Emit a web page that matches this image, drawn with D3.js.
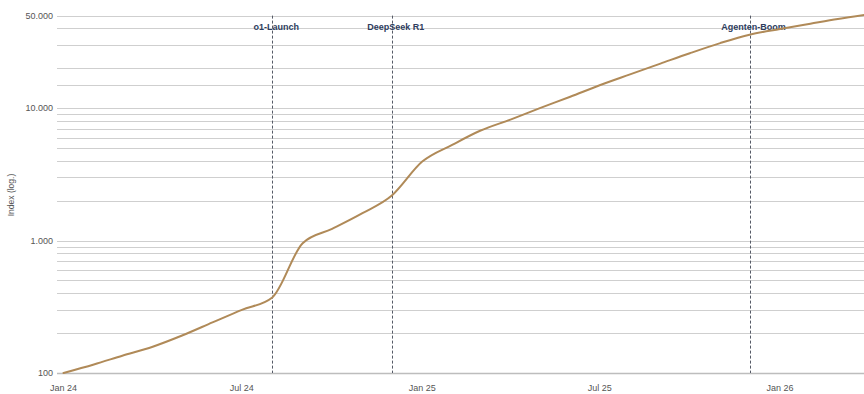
<!DOCTYPE html>
<html>
<head>
<meta charset="utf-8">
<script src="https://cdn.jsdelivr.net/npm/d3@7"></script>
<style>
  html, body { margin: 0; padding: 0; background: #fff; }
  svg { display: block; font-family: "Liberation Sans", Arial, Helvetica, sans-serif; }
</style>
</head>
<body>
<svg id="chart" width="864" height="394"></svg>
<script>
// Monthly index values (log scale), Jan 2024 = 100
const months = [
  "2024-01","2024-02","2024-03","2024-04","2024-05","2024-06",
  "2024-07","2024-08","2024-09","2024-10","2024-11","2024-12",
  "2025-01","2025-02","2025-03","2025-04","2025-05","2025-06",
  "2025-07","2025-08","2025-09","2025-10","2025-11","2025-12",
  "2026-01","2026-02","2026-03","2026-04"
];
const indexValues = [
  100, 116, 135, 158, 192, 241,
  300, 372, 955, 1225, 1610, 2190,
  3950, 5300, 6750, 8200, 10000, 12200,
  14900, 18000, 21700, 26000, 31000, 35900,
  39600, 43400, 47100, 51000
];

// Event markers
const eventDates = ["2024-08", "2024-12", "2025-12"];
const eventLabels = ["o1-Launch", "DeepSeek R1", "Agenten-Boom"];

// Axis ticks and grid
const xTickDates = ["2024-01", "2024-07", "2025-01", "2025-07", "2026-01"];
const yTickValues = [100, 1000, 10000, 50000];
const yGridValues = [
  100, 200, 300, 400, 500, 600, 700, 800, 900,
  1000, 2000, 3000, 4000, 5000, 6000, 7000, 8000, 9000,
  10000, 15000, 20000, 30000, 40000, 50000
];
const yTitle = "Index (log.)";

const parseMonth = d3.timeParse("%Y-%m");
const data = months.map((m, i) => ({ date: parseMonth(m), value: indexValues[i] }));

const de = d3.formatLocale({ decimal: ",", thousands: ".", grouping: [3], currency: ["", " €"] });
const fmt = de.format(",d");
const monthFmt = d3.timeFormat("%b %y");

const svg = d3.select("#chart");
const W = 864;

const x = d3.scaleTime()
  .domain([parseMonth("2024-01"), parseMonth("2026-01")])
  .range([63.5, 780]);
const y = d3.scaleLog()
  .domain([100, 50000])
  .range([373, 15.6]);

// Horizontal grid lines
svg.append("g")
  .selectAll("line")
  .data(yGridValues)
  .join("line")
  .attr("x1", 57)
  .attr("x2", W)
  .attr("y1", d => Math.round(y(d)) + 0.5)
  .attr("y2", d => Math.round(y(d)) + 0.5)
  .attr("stroke", d => d === 100 ? "#bdbdbd" : "#cfcfcf")
  .attr("stroke-width", d => d === 100 ? 1.6 : 1);

// Y tick labels
svg.append("g")
  .selectAll("text")
  .data(yTickValues)
  .join("text")
  .attr("x", 53)
  .attr("y", d => y(d))
  .attr("dy", "0.33em")
  .attr("text-anchor", "end")
  .attr("font-size", 9)
  .attr("fill", "#555")
  .text(d => fmt(d));

// X tick labels
svg.append("g")
  .selectAll("text")
  .data(xTickDates.map(parseMonth))
  .join("text")
  .attr("x", d => x(d))
  .attr("y", 391)
  .attr("text-anchor", "middle")
  .attr("font-size", 9)
  .attr("fill", "#555")
  .text(d => monthFmt(d));

// Y axis title
svg.append("text")
  .attr("transform", `translate(14,195) rotate(-90)`)
  .attr("text-anchor", "middle")
  .attr("font-size", 8.5)
  .attr("fill", "#555")
  .text(yTitle);

// Event markers
const ev = svg.append("g")
  .selectAll("g")
  .data(eventDates.map((d, i) => ({ date: parseMonth(d), label: eventLabels[i] })))
  .join("g");
ev.append("line")
  .attr("x1", d => Math.round(x(d.date)) + 0.5)
  .attr("x2", d => Math.round(x(d.date)) + 0.5)
  .attr("y1", y(50000))
  .attr("y2", y(100))
  .attr("stroke", "#555a66")
  .attr("stroke-width", 1)
  .attr("stroke-dasharray", "3,2");
ev.append("text")
  .attr("x", d => x(d.date) + 4)
  .attr("y", 30)
  .attr("text-anchor", "middle")
  .attr("font-size", 9)
  .attr("font-weight", "bold")
  .attr("fill", "#2e3d5e")
  .text(d => d.label);

// Index line
const line = d3.line()
  .x(d => x(d.date))
  .y(d => y(d.value))
  .curve(d3.curveMonotoneX);
svg.append("path")
  .datum(data)
  .attr("fill", "none")
  .attr("stroke", "#b08a58")
  .attr("stroke-width", 2)
  .attr("stroke-linejoin", "round")
  .attr("stroke-linecap", "round")
  .attr("d", line);
</script>
</body>
</html>
